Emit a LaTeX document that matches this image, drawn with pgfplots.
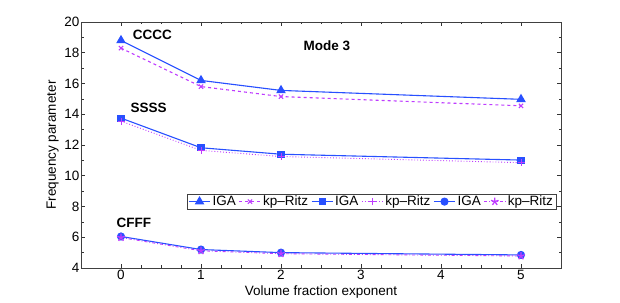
\documentclass[border=0pt]{standalone}
\usepackage{pgfplots}
\pgfplotsset{compat=1.18}
\usepackage{fontspec}
\setmainfont{Liberation Sans}
\definecolor{iga}{RGB}{40,80,255}
\definecolor{kp}{RGB}{190,60,255}
\newcommand{\ff}{\fontsize{13.5}{15}\selectfont}
\begin{document}
\begin{tikzpicture}
\path[use as bounding box] (0,0) rectangle (620pt,302pt);
\begin{axis}[
  at={(81pt,34pt)}, anchor=south west,
  scale only axis, width=480pt, height=246pt,
  xmin=-0.5, xmax=5.5, ymin=4, ymax=20,
  xtick={0,1,2,3,4,5}, ytick={4,6,...,20},
  minor x tick num=3, minor y tick num=1,
  tick align=inside, tick pos=both,
  major tick length=4pt, minor tick length=2.5pt,
  tick style={black!80, line width=0.5pt},
  axis line style={black!75, line width=0.6pt},
  font=\ff,
  tick label style={font=\ff},
  label style={font=\ff},
  /pgf/number format/assume math mode=true,
  yticklabel style={xshift=2pt},
  xticklabel style={yshift=1pt},
  xlabel={Volume fraction exponent}, ylabel={Frequency parameter},
  xlabel style={yshift=1pt}, ylabel style={yshift=-1pt},
  legend columns=6,
  legend style={at={(0.9896,0.24)}, anchor=south east, font=\ff,
    draw=black!75, inner xsep=1pt, inner ysep=0.5pt,
    nodes={inner xsep=2pt, inner ysep=1pt},
    column sep=0pt, /tikz/every even column/.append style={column sep=1pt}},
  legend image code/.code={\draw[mark repeat=2,mark phase=2,#1] plot coordinates {(0cm,0cm) (0.37cm,0cm) (0.74cm,0cm)};},
  legend cell align=left,
]
\addplot[iga, line width=1.1pt, mark=triangle*, mark size=4.5pt] coordinates {(0,18.8) (1,16.2) (2,15.55) (5,14.97)};
\addlegendentry{IGA}
\addplot[kp, line width=1.1pt, dashed, mark=x, mark size=3pt, mark options={solid}] coordinates {(0,18.3) (1,15.8) (2,15.15) (5,14.55)};
\addlegendentry{kp--Ritz}
\addplot[iga, line width=1.1pt, mark=square*, mark size=3pt] coordinates {(0,13.75) (1,11.82) (2,11.4) (5,11.02)};
\addlegendentry{IGA}
\addplot[kp, line width=0.9pt, dotted, mark=+, mark size=3.5pt, mark options={solid}] coordinates {(0,13.55) (1,11.65) (2,11.25) (5,10.85)};
\addlegendentry{kp--Ritz}
\addplot[iga, line width=1.1pt, mark=*, mark size=3.5pt] coordinates {(0,6.05) (1,5.2) (2,5.0) (5,4.85)};
\addlegendentry{IGA}
\addplot[kp, line width=0.9pt, dashdotted, mark=star, mark size=4pt, mark options={solid, fill=kp, line width=1.3pt}] coordinates {(0,5.98) (1,5.12) (2,4.93) (5,4.78)};
\addlegendentry{kp--Ritz}
\node[font=\ff\bfseries, anchor=west] at (axis cs:0.105,19.15) {CCCC};
\node[font=\ff\bfseries, anchor=west] at (axis cs:0.075,14.4) {SSSS};
\node[font=\ff\bfseries, anchor=west] at (axis cs:-0.1,6.93) {CFFF};
\node[font=\ff\bfseries] at (axis cs:2.575,18.44) {Mode 3};
\end{axis}
\end{tikzpicture}
\end{document}
